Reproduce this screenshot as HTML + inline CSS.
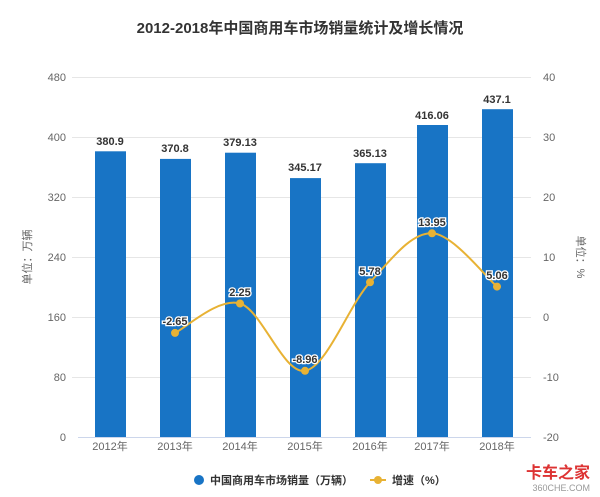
<!DOCTYPE html>
<html><head><meta charset="utf-8"><style>
html,body{margin:0;padding:0;background:#fff;}
svg{display:block;font-family:"Liberation Sans","Noto Sans CJK SC",sans-serif;}
</style></head><body>
<svg width="600" height="497" viewBox="0 0 600 497" xmlns="http://www.w3.org/2000/svg">
<rect width="600" height="497" fill="#fff"/>
<text x="300" y="33" text-anchor="middle" font-size="15" font-weight="bold" fill="#333">2012-2018年中国商用车市场销量统计及增长情况</text>
<g stroke="#e6e6e6" stroke-width="1">
<line x1="72" y1="77.5" x2="531" y2="77.5"/><line x1="72" y1="137.5" x2="531" y2="137.5"/>
<line x1="72" y1="197.5" x2="531" y2="197.5"/><line x1="72" y1="257.5" x2="531" y2="257.5"/>
<line x1="72" y1="317.5" x2="531" y2="317.5"/><line x1="72" y1="377.5" x2="531" y2="377.5"/>
</g>
<line x1="78" y1="437.5" x2="531" y2="437.5" stroke="#ccd6eb"/>
<g font-size="11" fill="#666" text-anchor="end">
<text x="66" y="81">480</text><text x="66" y="141">400</text><text x="66" y="201">320</text><text x="66" y="261">240</text><text x="66" y="321">160</text><text x="66" y="381">80</text><text x="66" y="441">0</text>
</g>
<g font-size="11" fill="#666" text-anchor="start">
<text x="543" y="81">40</text><text x="543" y="141">30</text><text x="543" y="201">20</text><text x="543" y="261">10</text><text x="543" y="321">0</text><text x="543" y="381">-10</text><text x="543" y="441">-20</text>
</g>
<text transform="translate(31,257) rotate(-90)" font-size="11" fill="#666" text-anchor="middle">单位：万辆</text>
<text transform="translate(577,257) rotate(90)" font-size="11" fill="#666" text-anchor="middle">单位：%</text>
<g fill="#1874c5">
<rect x="95" y="151.3" width="31" height="285.7"/>
<rect x="160" y="158.9" width="31" height="278.1"/>
<rect x="225" y="152.7" width="31" height="284.3"/>
<rect x="290" y="178.1" width="31" height="258.9"/>
<rect x="355" y="163.2" width="31" height="273.8"/>
<rect x="417" y="125" width="31" height="312"/>
<rect x="482" y="109.2" width="31" height="327.8"/>
</g>
<g font-size="11" font-weight="bold" fill="#333" text-anchor="middle">
<text x="110" y="145">380.9</text><text x="175" y="152">370.8</text><text x="240" y="146">379.13</text>
<text x="305" y="171">345.17</text><text x="370" y="157">365.13</text><text x="432" y="119">416.06</text><text x="497" y="103">437.1</text>
</g>
<g font-size="11" fill="#666" text-anchor="middle">
<text x="110" y="450">2012年</text><text x="175" y="450">2013年</text><text x="240" y="450">2014年</text><text x="305" y="450">2015年</text><text x="370" y="450">2016年</text><text x="432" y="450">2017年</text><text x="497" y="450">2018年</text>
</g>
<path d="M175,332.9 C185.8,328 218.3,297.2 240,303.5 C261.7,309.8 283.3,374.3 305,370.8 C326.7,367.3 348.8,305.2 370,282.3 C391.2,259.4 410.8,232.6 432,233.3 C453.2,234 486.2,277.7 497,286.6" fill="none" stroke="#e8b234" stroke-width="2"/>
<g fill="#e8b234">
<circle cx="175" cy="332.9" r="4"/><circle cx="240" cy="303.5" r="4"/><circle cx="305" cy="370.8" r="4"/>
<circle cx="370" cy="282.3" r="4"/><circle cx="432" cy="233.3" r="4"/><circle cx="497" cy="286.6" r="4"/>
</g>
<g font-size="11" font-weight="bold" fill="#333" stroke="#fff" stroke-width="2.5" paint-order="stroke" text-anchor="middle">
<text x="175" y="325">-2.65</text><text x="240" y="296">2.25</text><text x="305" y="363">-8.96</text>
<text x="370" y="275">5.78</text><text x="432" y="226">13.95</text><text x="497" y="279">5.06</text>
</g>
<circle cx="199" cy="480" r="5" fill="#1874c5"/>
<text x="210" y="484" font-size="11" fill="#333" font-weight="bold">中国商用车市场销量（万辆）</text>
<line x1="370" y1="480" x2="386" y2="480" stroke="#e8b234" stroke-width="2"/>
<circle cx="378" cy="480" r="4" fill="#e8b234"/>
<text x="392" y="484" font-size="11" fill="#333" font-weight="bold">增速（%）</text>
<text x="590" y="478" font-size="16" font-weight="bold" fill="#d33" text-anchor="end">卡车之家</text>
<text x="590" y="491" font-size="9" fill="#999" text-anchor="end">360CHE.COM</text>
</svg>
</body></html>
